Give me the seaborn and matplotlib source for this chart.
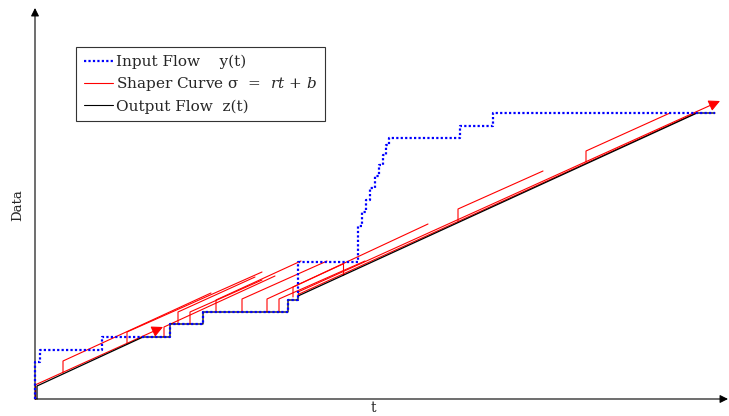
import matplotlib
matplotlib.use("Agg")
import numpy as np
import pandas as pd
import seaborn as sns
import matplotlib.pyplot as plt
from matplotlib.lines import Line2D

# ---------------- data ----------------
# Input flow y(t): arrival instants and cumulative data (staircase, steps-post)
in_t = [0.0, 0.0, 0.5, 6.7, 13.5, 16.8, 25.3, 26.3, 32.3, 32.7, 33.1, 33.5,
        34.0, 34.4, 34.8, 35.1, 35.4, 42.5, 45.8, 68.0]
in_v = [0.0, 3.7, 4.9, 6.2, 7.5, 8.7, 9.9, 13.7, 17.3, 18.7, 19.9, 21.1,
        22.3, 23.4, 24.4, 25.4, 26.1, 27.3, 28.6, 28.6]

# Output flow z(t): vertices of the shaped output
out_t = [0.2, 0.2, 10.8, 13.5, 13.5, 16.8, 16.8, 25.3, 25.3, 26.3, 26.3, 66.2, 68.0]
out_v = [0.0, 1.3, 6.2, 6.2, 7.5, 7.5, 8.7, 8.7, 9.9, 9.9, 10.3, 28.6, 28.6]

# Shaper curves sigma = r t + b started at various instants:
# start time, base value, value after burst b, end time, end value
seg_t0 = [2.8, 9.2, 12.9, 14.3, 15.5, 18.1, 20.7, 23.2, 24.4, 25.8, 30.8, 42.3, 55.1]
seg_base = [2.6, 5.5, 6.2, 7.5, 7.5, 8.7, 8.7, 8.7, 8.7, 10.2, 12.4, 17.7, 23.7]
seg_top = [3.8, 6.7, 7.2, 8.7, 8.7, 9.9, 10.0, 10.0, 10.0, 11.2, 13.6, 19.0, 24.8]
seg_t1 = [17.6, 22.7, 24.0, 22.0, 22.7, 26.6, 29.2, 30.8, 33.0, 39.3, 30.8, 50.8, 63.5]
seg_end = [10.6, 12.7, 12.3, 12.2, 11.9, 13.8, 13.8, 13.5, 13.8, 17.5, 13.6, 22.8, 28.6]

# Shaper curves drawn with an arrow head
arr_t0 = [0.0, 26.3]
arr_base = [0.0, 10.3]
arr_v0 = [1.4, 10.7]
arr_t1 = [12.8, 68.5]
arr_v1 = [7.2, 29.8]

# Shaper curve running along the output
trk_t = [26.3, 66.2]
trk_v = [10.45, 28.65]

legend_labels = ["Input Flow    y(t)",
                 "Shaper Curve σ  =  $rt$ + $b$",
                 "Output Flow  z(t)"]
x_label = "t"
y_label = "Data"

# ---------------- drawing ----------------
sns.set_theme(style="white")
plt.rcParams["font.family"] = ["DejaVu Serif"]
plt.rcParams["mathtext.fontset"] = "dejavuserif"

fig = plt.figure(figsize=(7.29, 4.16), dpi=100)
ax = fig.add_axes([0, 0, 1, 1])
ax.set_xlim(-3.5, 69.4)
ax.set_ylim(-1.7, 39.9)
ax.axis("off")

RED = "#ff0000"
BLUE = "#0000ff"

# red shaper segments (vertical burst + slope)
rows = []
for i in range(len(seg_t0)):
    rows += [(i, seg_t0[i], seg_base[i], 0), (i, seg_t0[i], seg_top[i], 1),
             (i, seg_t1[i], seg_end[i], 2)]
seg_df = pd.DataFrame(rows, columns=["seg", "t", "v", "k"])
sns.lineplot(data=seg_df, x="t", y="v", units="seg", estimator=None, sort=False,
             color=RED, lw=0.8, ax=ax, legend=False, zorder=2)

# arrowed shaper curves
for i in range(len(arr_t0)):
    ax.plot([arr_t0[i], arr_t0[i]], [arr_base[i], arr_v0[i]], color=RED, lw=0.8, zorder=2)
    ax.annotate("", xy=(arr_t1[i], arr_v1[i]), xytext=(arr_t0[i], arr_v0[i]),
                arrowprops=dict(arrowstyle="-|>", color=RED, lw=0.8,
                                mutation_scale=17, shrinkA=0, shrinkB=0),
                zorder=2)

sns.lineplot(x=trk_t, y=trk_v, color=RED, lw=0.8, ax=ax, sort=False,
             estimator=None, zorder=2)

# output flow
sns.lineplot(x=out_t, y=out_v, color="black", lw=0.9, ax=ax, sort=False,
             estimator=None, zorder=3)

# input flow
sns.lineplot(x=in_t, y=in_v, color=BLUE, lw=1.6, ax=ax, sort=False,
             estimator=None, drawstyle="steps-post", zorder=4)
ax.lines[-1].set_linestyle((0, (1, 1)))

# axes arrows
ax.annotate("", xy=(0, 39.1), xytext=(0, 0),
            arrowprops=dict(arrowstyle="-|>", color="black", lw=0.8,
                            mutation_scale=12, shrinkA=0, shrinkB=0))
ax.annotate("", xy=(69.3, 0), xytext=(0, 0),
            arrowprops=dict(arrowstyle="-|>", color="black", lw=0.8,
                            mutation_scale=12, shrinkA=0, shrinkB=0))
ax.text(33.8, -0.95, x_label, ha="center", va="center", fontsize=10)
ax.text(-1.7, 19.4, y_label, ha="center", va="center", rotation=90, fontsize=9.5)

handles = [Line2D([], [], color=BLUE, lw=1.6, ls=(0, (1, 1))),
           Line2D([], [], color=RED, lw=0.8),
           Line2D([], [], color="black", lw=0.8)]
leg = ax.legend(handles, legend_labels, loc="upper left",
                bbox_to_anchor=(76 / 729, 1 - 47 / 416), bbox_transform=fig.transFigure,
                borderaxespad=0, frameon=True, fancybox=False, framealpha=1,
                edgecolor="#333333", fontsize=11, handlelength=1.95,
                handletextpad=0.2, labelspacing=0.4, borderpad=0.5)
leg.get_frame().set_linewidth(0.8)

fig.savefig("out.png", dpi=100)
